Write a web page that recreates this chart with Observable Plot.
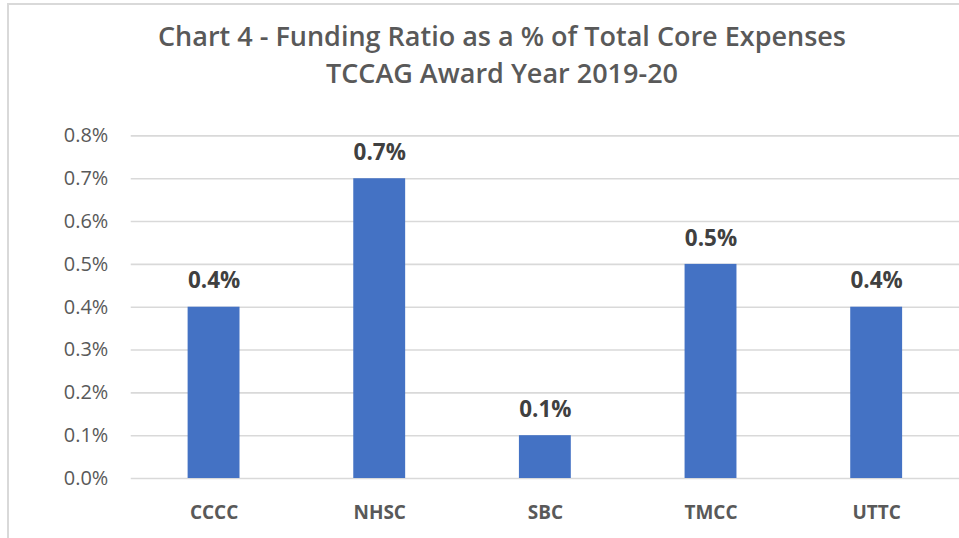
<!DOCTYPE html>
<html>
<head>
<meta charset="utf-8">
<script src="https://cdn.jsdelivr.net/npm/d3@7"></script>
<script src="https://cdn.jsdelivr.net/npm/@observablehq/plot@0.6"></script>
<style>
  html, body { margin: 0; padding: 0; background: #fff; overflow: hidden; }
  #wrap { position: relative; width: 959px; height: 538px; overflow: hidden; }
  #frame { position: absolute; left: 7px; top: 3px; width: 1000px; height: 600px;
           border-left: 2px solid #d9d9d9; border-top: 2px solid #d9d9d9; box-sizing: border-box; }
  #title { position: absolute; left: 52px; width: 900px; top: 17px; text-align: center;
           font-family: "Open Sans", sans-serif; font-weight: 600; font-size: 27px;
           line-height: 37px; color: #595959; }
  #chart { position: absolute; left: 0; top: 0; }
</style>
</head>
<body>
<div id="wrap">
  <div id="frame"></div>
  <div id="chart"></div>
  <div id="title">Chart 4 - Funding Ratio as a % of Total Core Expenses<br>TCCAG Award Year 2019-20</div>
</div>
<script>
const categories = ["CCCC", "NHSC", "SBC", "TMCC", "UTTC"];
const values = [0.4, 0.7, 0.1, 0.5, 0.4];
const yTicks = [0, 0.1, 0.2, 0.3, 0.4, 0.5, 0.6, 0.7, 0.8];

const data = categories.map((c, i) => ({cat: c, v: values[i]}));
const fmt = d => d.toFixed(1) + "%";

const chart = Plot.plot({
  width: 961,
  height: 538,
  marginLeft: 131,
  marginRight: 0,
  marginTop: 135.7,
  marginBottom: 59,
  style: {background: "transparent", overflow: "visible"},
  x: {domain: categories, paddingInner: 0.685, paddingOuter: 0.34, label: null},
  y: {domain: [0, 0.8], label: null},
  marks: [
    Plot.gridY(yTicks, {stroke: "#d9d9d9", strokeOpacity: 1, strokeWidth: 1.6}),
    Plot.axisY(yTicks, {tickSize: 0, tickPadding: 23, tickFormat: fmt, fontSize: 20,
      fill: "#595959", fontFamily: "Open Sans", label: null, style: "letter-spacing:0.4px"}),
    Plot.axisX({tickSize: 0, tickPadding: 27, fontSize: 19, fontWeight: "bold",
      fill: "#595959", fontFamily: "Open Sans", label: null}),
    Plot.barY(data, {x: "cat", y: "v", fill: "#4472c4"}),
    Plot.text(data, {x: "cat", y: "v", text: d => fmt(d.v), dy: -26, lineAnchor: "middle",
      fontSize: 22.5, fontWeight: "bold", fill: "#404040", fontFamily: "Open Sans",
      style: "letter-spacing:0.6px"})
  ]
});
document.getElementById("chart").appendChild(chart);
</script>
</body>
</html>
